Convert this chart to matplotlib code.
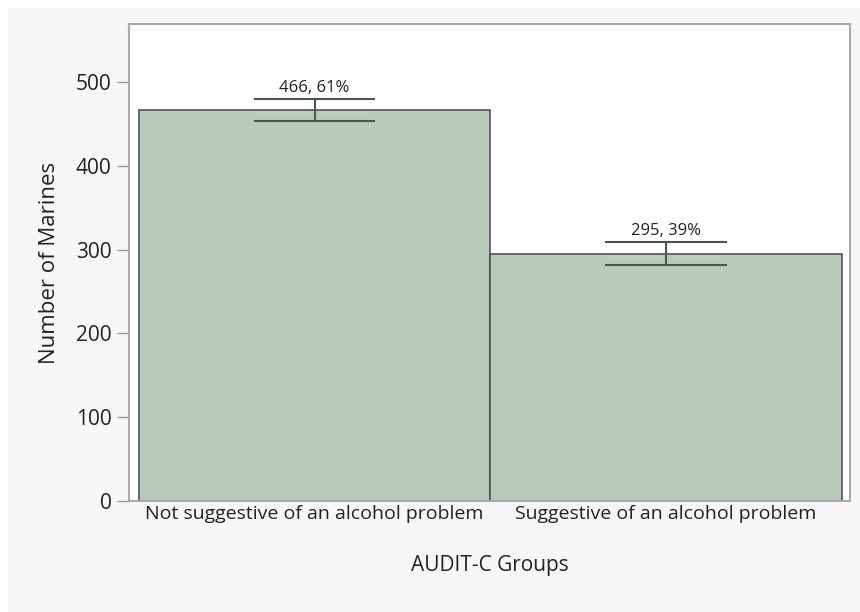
import matplotlib.pyplot as plt
from matplotlib.patches import Rectangle

groups = ['Not suggestive of an alcohol problem', 'Suggestive of an alcohol problem']
counts = [466, 295]
percents = [61, 39]
err_low = [453, 281]
err_high = [479, 309]

plt.rcParams['font.family'] = ['Open Sans', 'DejaVu Sans']

fig = plt.figure(figsize=(8.6, 6.12), dpi=100, facecolor='white')
fig.patches.append(Rectangle((8/860, 0), 1, 1 - 8/612, transform=fig.transFigure,
                             facecolor='#f7f7f7', edgecolor='none', zorder=-10))
ax = fig.add_axes([129/860, (612-501)/612, 721/860, 477/612])
ax.set_facecolor('white')

x = range(len(groups))
ax.bar(x, counts, width=1.0, color='#b9c9bb', edgecolor='#4c564e', linewidth=1.2, zorder=2)

for i, c in enumerate(counts):
    lo, hi = err_low[i], err_high[i]
    ax.plot([i, i], [lo, hi], color='#4c564e', lw=1.5, zorder=3)
    ax.plot([i - 0.17, i + 0.17], [hi, hi], color='#4c564e', lw=1.5, zorder=3)
    ax.plot([i - 0.17, i + 0.17], [lo, lo], color='#4c564e', lw=1.5, zorder=3)
    ax.text(i, hi + 4, '%d, %d%%' % (c, percents[i]), ha='center', va='bottom',
            fontsize=12, color='#222222')

ax.set_xlim(-0.528, 1.523)
ax.set_ylim(0, 569)
ax.set_yticks([0, 100, 200, 300, 400, 500])
ax.set_yticklabels(['0', '100', '200', '300', '400', '500'], fontsize=15, color='#222222')
ax.set_xticks(list(x))
ax.set_xticklabels(groups, fontsize=14, color='#222222')
ax.tick_params(axis='x', length=0, pad=3)
ax.tick_params(axis='y', length=8.5, width=1, color='#999999', pad=4)

for s in ax.spines.values():
    s.set_color('#aaaaaa')
    s.set_linewidth(1.5)

ax.set_ylabel('Number of Marines', fontsize=16, color='#222222', va='center')
ax.yaxis.set_label_coords(-0.1096, 0.5)
ax.set_xlabel('AUDIT-C Groups', fontsize=15, color='#222222', va='center')
ax.xaxis.set_label_coords(0.5, -0.136)

plt.savefig('out.png', dpi=100, facecolor=fig.get_facecolor())
